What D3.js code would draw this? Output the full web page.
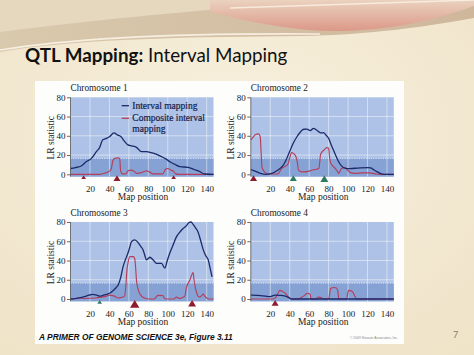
<!DOCTYPE html>
<html><head><meta charset="utf-8">
<script src="https://cdn.jsdelivr.net/npm/d3@7"></script>
<style>html,body{margin:0;padding:0;background:#f3ead6;} svg{display:block}</style>
</head><body><svg id="c" width="474" height="355"></svg>
<script>
// ---------- data ----------
const chromosomes = ["Chromosome 1", "Chromosome 2", "Chromosome 3", "Chromosome 4"];
const xTicks = [20, 40, 60, 80, 100, 120, 140];
const yTicks = [0, 20, 40, 60, 80];
const threshold = 16.6;
const seriesNames = ["Interval mapping", "Composite interval mapping"];

const chr1Interval = [[0,6],[5,7],[11,8.6],[16,13],[21,16],[26.6,23.5],[30,28],[33,35.7],[36,37],[40,39],[44.8,43],[48,41],[52,39],[55,35],[59,30.5],[63,29.5],[67.8,28],[73,23.5],[78,23.5],[83,22.5],[88,21],[93.6,18.3],[98,16],[102,13],[107,10.5],[112.5,7.9],[121,7.3],[127,5],[133,2.7],[138,0.3],[147,0]];
const chr1Composite = [[0,0],[30,0],[36,1.5],[40,3],[42,6],[43.5,14],[45.5,16.6],[49,17],[50.6,16],[51.5,4],[53,0.5],[57,0.5],[59,3.5],[62,4.3],[65,3.5],[68,1],[72,1.5],[75,2.5],[78,3.7],[81,2.5],[85,0.5],[95,0.5],[97.5,5],[100,6],[103,4.5],[106,3],[108,0.5],[112,0],[147,0]];

const chr2Interval = [[0,5],[5,3],[10,1],[15,0],[20,0.5],[28,4.5],[33,9],[35.4,13],[38,19],[40.5,25],[44,33],[47.4,39],[51,44],[54.3,46.8],[57.8,47],[61,45.4],[64.5,47.8],[67,46.5],[69.7,44.3],[72,43],[74.8,43.3],[77,41],[80,37.4],[82.5,31],[85,25],[88,18],[90.3,13],[93,9],[97.2,6.2],[102,6],[110,6.5],[121,7],[124,6.5],[126,5],[130,2.5],[133,1],[137,0],[147,0]];
const chr2Composite = [[0,35.7],[2,38],[4.5,41],[8,42],[9.7,39],[10.5,25],[11.4,8],[13,4],[14.7,2],[18,0.3],[28,0.3],[31.6,6],[35,8],[38.4,11],[40,17],[42,22.5],[44,21.5],[45.5,20],[47,16.6],[48.2,10],[48.9,4.5],[52,2.5],[55,2.5],[59,3],[62,4],[66,5],[70,6],[71,14],[71.6,20],[73,23],[75,25],[78.3,27.7],[80,27],[80.8,20],[81.7,13],[84,9],[87,6],[89,3],[90.3,1],[92,4],[93.7,6.2],[97,7],[99,5],[102,2],[107,1],[115,1.5],[122,1.5],[128,0.5],[132,0],[147,0]];

const chr3Interval = [[0,0],[5,0.5],[10,1.5],[14.5,2.4],[19,4],[23,4.8],[27,4],[30,3],[34,4],[37,4.8],[41,6.5],[43.7,8.6],[47,12],[49,14.5],[51.5,22],[54,33.4],[56.5,41],[59,47.5],[61,54],[62.7,59.6],[66,61.4],[69.5,58.6],[72,55],[74.6,51],[76.5,45],[78,40.6],[80,42],[81.5,43.4],[85,40.6],[88.4,37],[93.6,37],[97,32],[99.5,40],[102,47.5],[105,55],[109,64.8],[112,69],[116,73.5],[119,76],[122,79.7],[124,80],[126,77.5],[128.5,74],[131,69.8],[134,60],[136.5,51],[139,45],[141.6,40.6],[143.5,32],[145.5,23]];
const chr3Composite = [[0,0],[5,0.5],[9.4,1],[15,0.5],[25,1],[32,2],[37,3],[40,4],[45,3],[49,1],[52,1.5],[55.6,3],[57,15],[58,30],[59,37],[61,44],[64.5,44],[66,42],[67,32],[67.8,19.8],[69,12],[71,6],[73,3],[76,1],[80,0],[86,0],[88,2],[90,3.7],[95,3.5],[96.5,1],[98,0],[106,0],[109,2],[112,0.5],[115,1.5],[117.6,3],[119,11],[122.8,19.8],[126,27.4],[127,20],[128,13.5],[129.5,7],[131,3],[133,2],[136.5,5],[138,3],[140,1],[142,0],[147,0]];

const chr4Interval = [[0,4.1],[5,3.8],[10,3.5],[15,3],[19.8,2.4],[25,4],[30,3.8],[35.4,3],[39,1.5],[42,0],[147,0]];
const chr4Composite = [[0,0],[22,0],[25,1],[27,4],[30,9],[33,7.5],[35.4,6],[38,3],[42,0],[48,0],[52.8,2],[56,4.5],[58,6],[61,5],[62,0],[66,0],[70,2],[73,1],[76,0],[80,0],[81,5],[82,11],[85.5,12],[88,11.5],[89.5,8],[90.5,0],[98.5,0],[99.5,5],[100.5,9],[104,8],[106,5],[108,1],[109,0],[147,0]];

// marker positions: [map position, rank]
const chr1RedMarkers = [[13.5,1],[47.8,2],[106,1]];
const chr1GreenMarkers = [];
const chr2RedMarkers = [[2.8,2]];
const chr2GreenMarkers = [[43.7,2],[75.6,2.4]];
const chr3RedMarkers = [[66,3],[125,2.4]];
const chr3GreenMarkers = [[30,1]];
const chr4RedMarkers = [[25,2]];
const chr4GreenMarkers = [];

const intervalSeries = [chr1Interval, chr2Interval, chr3Interval, chr4Interval];
const compositeSeries = [chr1Composite, chr2Composite, chr3Composite, chr4Composite];
const redMarkers = [chr1RedMarkers, chr2RedMarkers, chr3RedMarkers, chr4RedMarkers];
const greenMarkers = [chr1GreenMarkers, chr2GreenMarkers, chr3GreenMarkers, chr4GreenMarkers];

// ---------- drawing ----------
const svg = d3.select("#c");
const W = 474, H = 355;
const serif = "'Liberation Serif', 'DejaVu Serif', serif";

// slide background
const defs = svg.append("defs");
const bgG = defs.append("radialGradient").attr("id","bgG").attr("cx","50%").attr("cy","40%").attr("r","75%");
bgG.append("stop").attr("offset","0%").attr("stop-color","#f8f1df");
bgG.append("stop").attr("offset","100%").attr("stop-color","#efe3c8");
svg.append("rect").attr("width",W).attr("height",H).attr("fill","url(#bgG)");

const pinkG = defs.append("linearGradient").attr("id","pinkG").attr("x1","0").attr("y1","0").attr("x2","0").attr("y2","1");
pinkG.append("stop").attr("offset","0%").attr("stop-color","#ead2bf");
pinkG.append("stop").attr("offset","100%").attr("stop-color","#dc9888");
const tanG = defs.append("linearGradient").attr("id","tanG").attr("x1","0").attr("y1","0").attr("x2","1").attr("y2","0");
tanG.append("stop").attr("offset","0%").attr("stop-color","#d9c9ad");
tanG.append("stop").attr("offset","100%").attr("stop-color","#cfb79c");

svg.append("path").attr("d","M0,0 H474 V18 C430,26 370,35 300,36 C200,37 80,38 0,52 Z").attr("fill","url(#tanG)");
svg.append("path").attr("d","M0,0 H330 C260,6 140,14 0,32 Z").attr("fill","#e5d8bf");
svg.append("path").attr("d","M210,0 H474 V6 C440,18 400,29 345,31 C295,32 250,22 210,12 Z").attr("fill","url(#pinkG)");
svg.append("path").attr("d","M0,50 C80,37 200,33 320,34").attr("fill","none").attr("stroke","#fbf6ea").attr("stroke-width",1.6).attr("opacity",0.85);
svg.append("path").attr("d","M230,8 C320,5 400,3 474,0").attr("fill","none").attr("stroke","#fbf3e6").attr("stroke-width",1.5).attr("opacity",0.8);

// title
const title = svg.append("text").attr("x",25).attr("y",62)
  .attr("font-family","Lato, 'Open Sans', sans-serif").attr("font-size",18.8).attr("fill","#111");
title.append("tspan").attr("font-weight","bold").text("QTL Mapping:");
title.append("tspan").text(" Interval Mapping");

// figure box
svg.append("rect").attr("x",35).attr("y",81).attr("width",369).attr("height",263).attr("fill","#fdfdfc");

const panels = [
  {left:70.5, zero:174.3},
  {left:250.8, zero:174.3},
  {left:70.5, zero:299},
  {left:250.8, zero:299}
];
const plotW = 143, plotH = 77;
const markerColor = {red:"#8e1c2e", green:"#2f7a62"};

panels.forEach((p, i) => {
  const x = d3.scaleLinear().domain([0,147]).range([p.left, p.left + plotW]);
  const y = d3.scaleLinear().domain([0,80]).range([p.zero, p.zero - plotH]);
  const bottom = p.zero + 2.3;
  const g = svg.append("g");

  g.append("rect").attr("x",x(0)).attr("y",y(80)).attr("width",plotW).attr("height",bottom - y(80)).attr("fill","#adc2e6");
  g.append("rect").attr("x",x(0)).attr("y",y(threshold)).attr("width",plotW).attr("height",bottom - y(threshold)).attr("fill","#86a2d4");

  // grid
  g.selectAll(".vg").data(xTicks).join("line")
    .attr("x1",d=>x(d)).attr("x2",d=>x(d)).attr("y1",y(80)).attr("y2",bottom)
    .attr("stroke","#ffffff").attr("stroke-opacity",0.6).attr("stroke-width",0.8);
  g.selectAll(".hg").data([20,40,60]).join("line")
    .attr("x1",x(0)).attr("x2",x(147)).attr("y1",d=>y(d)).attr("y2",d=>y(d))
    .attr("stroke","#ffffff").attr("stroke-opacity",0.6).attr("stroke-width",0.8);
  g.append("line").attr("x1",x(0)).attr("x2",x(147)).attr("y1",y(threshold)).attr("y2",y(threshold))
    .attr("stroke","#eef2fa").attr("stroke-width",0.9).attr("stroke-dasharray","1.2,1.2");

  const line = d3.line().x(d=>x(d[0])).y(d=>y(d[1])).curve(d3.curveMonotoneX);
  g.append("path").datum(compositeSeries[i]).attr("d",line).attr("fill","none")
    .attr("stroke","#b53e5a").attr("stroke-width",1.15).attr("stroke-linejoin","round");
  g.append("path").datum(intervalSeries[i]).attr("d",line).attr("fill","none")
    .attr("stroke","#1c2a6b").attr("stroke-width",1.3).attr("stroke-linejoin","round");

  // markers
  const tri = (cx, r) => {
    const w = 2.2 + r * 2.4, h = 1.8 + r * 2.0, top = p.zero + 1;
    return `M${cx},${top} L${cx + w/2},${top + h} L${cx - w/2},${top + h} Z`;
  };
  g.selectAll(".mr").data(redMarkers[i]).join("path").attr("d",d=>tri(x(d[0]), d[1])).attr("fill",markerColor.red);
  g.selectAll(".mg").data(greenMarkers[i]).join("path").attr("d",d=>tri(x(d[0]), d[1])).attr("fill",markerColor.green);

  // axes
  const ya = g.append("g").attr("transform",`translate(${x(0)},0)`)
    .call(d3.axisLeft(y).tickValues(yTicks).tickSize(3.5).tickPadding(1.5));
  ya.select(".domain").remove();
  ya.selectAll("line").attr("stroke","#444").attr("stroke-width",0.8);
  ya.selectAll("text").attr("font-family",serif).attr("font-size",9).attr("fill","#222");
  g.append("line").attr("x1",x(0)).attr("x2",x(0)).attr("y1",y(80)).attr("y2",bottom).attr("stroke","#555").attr("stroke-width",0.8);

  const xa = g.append("g").attr("transform",`translate(0,${p.zero})`)
    .call(d3.axisBottom(x).tickValues(xTicks).tickSize(0));
  xa.select(".domain").remove();
  xa.selectAll("text").attr("y",17.5).attr("dy",0).attr("font-family",serif).attr("font-size",9).attr("fill","#222");

  g.append("text").attr("x",(x(0)+x(147))/2 + 1).attr("y",p.zero + 26).attr("text-anchor","middle")
    .attr("font-family",serif).attr("font-size",9.5).attr("fill","#222").text("Map position");
  g.append("text").attr("transform",`translate(${x(0)-17},${(y(80)+p.zero)/2 + 2}) rotate(-90)`)
    .attr("text-anchor","middle").attr("font-family",serif).attr("font-size",9.5).attr("fill","#222").text("LR statistic");
  g.append("text").attr("x",x(0)).attr("y",y(80) - 6).attr("font-family",serif).attr("font-size",9.3)
    .attr("fill","#222").text(chromosomes[i]);

  if (i === 0) {
    const lg = g.append("g");
    lg.append("line").attr("x1",121.7).attr("x2",129).attr("y1",105.7).attr("y2",105.7).attr("stroke","#1c2a6b").attr("stroke-width",1.3);
    lg.append("line").attr("x1",121.7).attr("x2",129).attr("y1",118.3).attr("y2",118.3).attr("stroke","#b53e5a").attr("stroke-width",1.3);
    const lt = (txt, yy) => lg.append("text").attr("x",132.3).attr("y",yy).attr("font-family",serif)
      .attr("font-size",9.5).attr("fill","#16204a").attr("stroke","#16204a").attr("stroke-width",0.2).text(txt);
    lt(seriesNames[0], 108.7);
    const parts = seriesNames[1].split(" ");
    lt(parts[0] + " " + parts[1], 121.3);
    lt(parts[2], 131.5);
  }
});

// caption
svg.append("text").attr("x",39).attr("y",340).attr("font-family","'Liberation Sans', Arial, sans-serif")
  .attr("font-size",8.4).attr("font-weight","bold").attr("font-style","italic").attr("fill","#111")
  .text("A PRIMER OF GENOME SCIENCE 3e, Figure 3.11");
svg.append("text").attr("x",398).attr("y",338.5).attr("text-anchor","end").attr("font-family","'Liberation Sans', Arial, sans-serif")
  .attr("font-size",3.4).attr("fill","#888").text("© 2009 Sinauer Associates, Inc.");
svg.append("text").attr("x",453).attr("y",338).attr("font-family","Lato, sans-serif")
  .attr("font-size",9).attr("fill","#8a7d66").text("7");
</script></body></html>
